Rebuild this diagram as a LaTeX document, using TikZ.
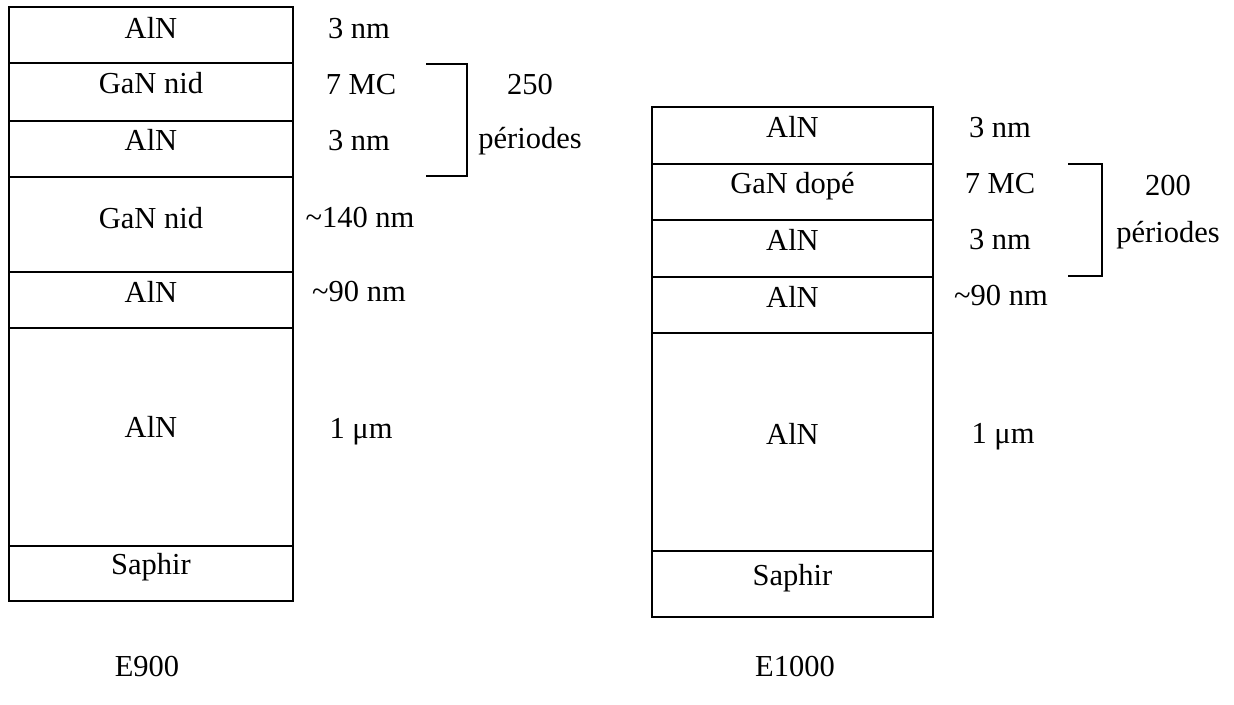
\documentclass[tikz,border=0pt]{standalone}
\usepackage{fontspec}
\setmainfont{Liberation Serif}
\begin{document}
\begin{tikzpicture}[x=1pt,y=-1pt,line width=2pt,
  lbl/.style={anchor=base,inner sep=0pt,font=\fontsize{30.5}{36}\selectfont},
  brace/.style={line width=2pt,line join=miter}]
\useasboundingbox (0,0) rectangle (1234,704);

% ---------- E900 stack ----------
\draw (9,7) rectangle (293,601);
\foreach \y in {63,121,177,272,328,546} \draw (9,\y) -- (293,\y);
\node[lbl] (a1) at (151,38)  {AlN};
\node[lbl] (a2) at (151,93)  {GaN nid};
\node[lbl] (a3) at (151,150) {AlN};
\node[lbl] (a4) at (151,228) {GaN nid};
\node[lbl] (a5) at (151,302) {AlN};
\node[lbl] (a6) at (151,437) {AlN};
\node[lbl] (a7) at (151,574) {Saphir};

\node[lbl] (ta1) at (359,38)  {3 nm};
\node[lbl] (ta2) at (361,94)  {7 MC};
\node[lbl] (ta3) at (359,150) {3 nm};
\node[lbl] (ta4) at (360,227) {\textasciitilde140 nm};
\node[lbl] (ta5) at (359,301) {\textasciitilde90 nm};
\node[lbl] (ta6) at (361,438) {1 μm};

\coordinate (ba1) at (426,64);
\coordinate (ba2) at (467,64);
\coordinate (ba3) at (467,176);
\coordinate (ba4) at (426,176);
\draw[brace] (ba1) -- (ba2) -- (ba3) -- (ba4);
\node[lbl] (pa1) at (530,94)  {250};
\node[lbl] (pa2) at (530,148) {périodes};

\node[lbl] (na) at (147,676) {E900};

% ---------- E1000 stack ----------
\draw (652,107) rectangle (933,617);
\foreach \y in {164,220,277,333,551} \draw (652,\y) -- (933,\y);
\node[lbl] (b1) at (792.5,137) {AlN};
\node[lbl] (b2) at (792.5,193) {GaN dopé};
\node[lbl] (b3) at (792.5,250) {AlN};
\node[lbl] (b4) at (792.5,307) {AlN};
\node[lbl] (b5) at (792.5,444) {AlN};
\node[lbl] (b6) at (792.5,585) {Saphir};

\node[lbl] (tb1) at (1000,137) {3 nm};
\node[lbl] (tb2) at (1000,193) {7 MC};
\node[lbl] (tb3) at (1000,249) {3 nm};
\node[lbl] (tb4) at (1001,305) {\textasciitilde90 nm};
\node[lbl] (tb5) at (1003,443) {1 μm};

\coordinate (bb1) at (1068,164);
\coordinate (bb2) at (1102,164);
\coordinate (bb3) at (1102,276);
\coordinate (bb4) at (1068,276);
\draw[brace] (bb1) -- (bb2) -- (bb3) -- (bb4);
\node[lbl] (pb1) at (1168,195) {200};
\node[lbl] (pb2) at (1168,242) {périodes};

\node[lbl] (nb) at (795,676) {E1000};
\end{tikzpicture}
\end{document}
